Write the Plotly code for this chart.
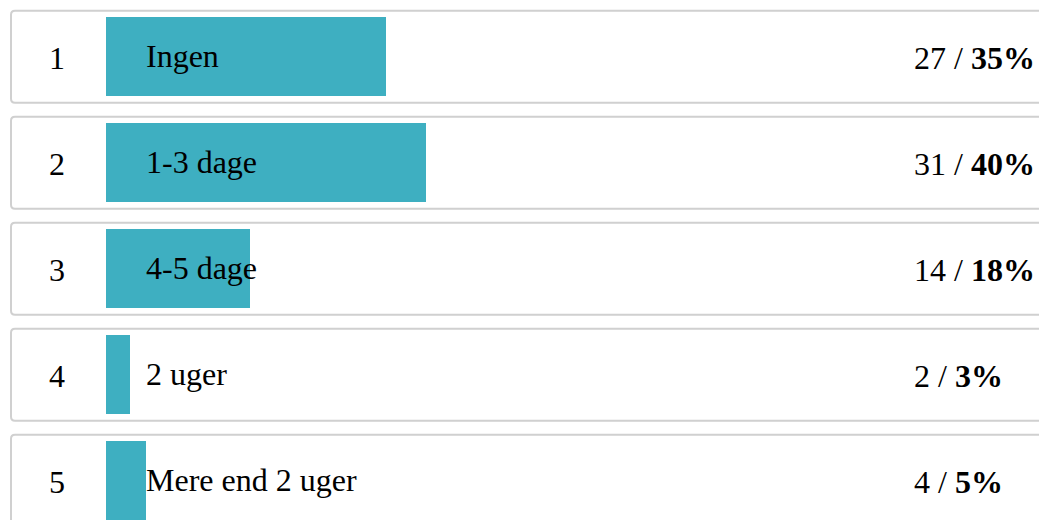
import plotly.graph_objects as go

ranks = [1, 2, 3, 4, 5]
labels = ["Ingen", "1-3 dage", "4-5 dage", "2 uger", "Mere end 2 uger"]
counts = [27, 31, 14, 2, 4]
percents = [35, 40, 18, 3, 5]

OFF = 0
W, H = 1039, 520
BAR_COLOR = "#3eafc1"
BORDER = "#d0d0d0"
FONT = "Liberation Serif, Times New Roman, serif"

px_per_pct = 8.0
x0_px = 106 - OFF
x_range = [-x0_px / px_per_pct, (W - x0_px) / px_per_pct]
row_px = 106.0
first_center = 56.8 - OFF
y_top = 1 - first_center / row_px
y_bot = 1 + (H - first_center) / row_px


def xd(px):
    return (px - OFF - x0_px) / px_per_pct


fig = go.Figure()
fig.add_trace(go.Bar(
    y=ranks, x=percents, orientation="h", width=79 / row_px,
    marker=dict(color=BAR_COLOR, line=dict(width=0)),
    hoverinfo="skip",
))

rx = 4 / px_per_pct
ry = 4 / row_px
xl = xd(11)
xr = x_range[1] + 5
half = 46 / row_px
for r in ranks:
    t, b = r - half, r + half
    path = (f"M {xl+rx},{t} L {xr},{t} L {xr},{b} L {xl+rx},{b} "
            f"Q {xl},{b} {xl},{b-ry} L {xl},{t+ry} Q {xl},{t} {xl+rx},{t} Z")
    fig.add_shape(type="path", path=path, xref="x", yref="y",
                  line=dict(color=BORDER, width=2), fillcolor="rgba(0,0,0,0)",
                  layer="below")

for r, lab, c, p in zip(ranks, labels, counts, percents):
    fig.add_annotation(x=xd(57), y=r, text=str(r), showarrow=False,
                       xanchor="center", yanchor="middle", yshift=-1,
                       font=dict(family=FONT, size=32, color="#000"))
    fig.add_annotation(x=xd(144), y=r, text=lab, showarrow=False,
                       xanchor="left", yanchor="middle", yshift=1,
                       font=dict(family=FONT, size=32, color="#000"))
    fig.add_annotation(x=xd(912), y=r, text=f"{c} / <b>{p}%</b>",
                       showarrow=False, xanchor="left", yanchor="middle", yshift=-1,
                       font=dict(family=FONT, size=32, color="#000"))

fig.update_layout(
    width=W, height=H, margin=dict(l=0, r=0, t=0, b=0),
    paper_bgcolor="white", plot_bgcolor="rgba(0,0,0,0)",
    showlegend=False, bargap=0,
    xaxis=dict(range=x_range, visible=False, fixedrange=True),
    yaxis=dict(range=[y_bot, y_top], visible=False, fixedrange=True),
)
fig.write_html("out.html", config={"displayModeBar": False},
               post_script="document.body.style.margin='0';document.body.style.overflow='hidden';")
